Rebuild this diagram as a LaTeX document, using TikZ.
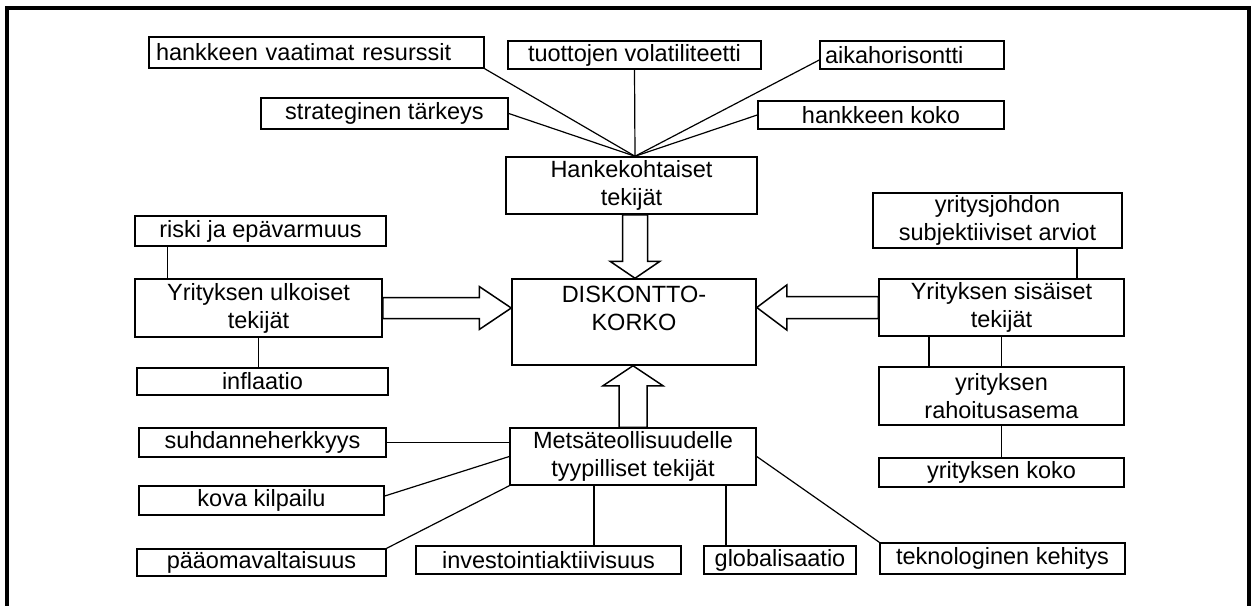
\documentclass[tikz,border=0pt]{standalone}
\usepackage{fontspec}
\setmainfont{Liberation Sans}
\usetikzlibrary{calc}

% hollow block arrow from #1 to #2: shaft half width, head half width, head length
\newcommand{\blockarrow}[5]{%
  \coordinate (ba-h) at ($(#2)!#5!(#1)$);
  \draw[barrow] ($(#1)!#3!90:(#2)$) -- ($(ba-h)!#3!90:(#2)$)
    -- ($(ba-h)!#4!90:(#2)$) -- (#2) -- ($(ba-h)!#4!-90:(#2)$)
    -- ($(ba-h)!#3!-90:(#2)$) -- ($(#1)!#3!-90:(#2)$) -- cycle;}

\begin{document}
\begin{tikzpicture}[x=1pt, y=-1pt,
    font=\fontsize{23.5}{28}\selectfont,
    box/.style={draw, line width=1.5pt, inner sep=0pt, align=center},
    conn/.style={line width=1.2pt},
    barrow/.style={line width=1.5pt, line join=miter, fill=white}]
  \useasboundingbox (0,0) rectangle (1257,605);
  \draw[line width=3.2pt] (7,615) -- (7,8) -- (1249,8) -- (1249,615);

  % hankekohtaiset
  \node[box, minimum width=335, minimum height=31, text width=321, align=left] (res) at (316.5,52.5) {hankkeen vaatimat resurssit};
  \node[box, minimum width=253, minimum height=28] (tuot) at (634.5,55) {tuottojen volatiliteetti};
  \node[box, minimum width=184, minimum height=28, text width=174, align=left] (aika) at (912,55) {aikahorisontti};
  \node[box, minimum width=247, minimum height=31] (str) at (384.5,113.5) {strateginen tärkeys};
  \node[box, minimum width=246, minimum height=28] (koko) at (881,115) {hankkeen koko};
  \node[box, minimum width=251, minimum height=57] (hank) at (631.5,185.5) {Hankekohtaiset\\tekijät};

  % keskus
  \node[box, minimum width=244, minimum height=86] (disk) at (634,322) {DISKONTTO-\\KORKO\\\mbox{}};

  % ulkoiset
  \node[box, minimum width=251, minimum height=30] (riski) at (260.5,231) {riski ja epävarmuus};
  \node[box, minimum width=247, minimum height=58] (ulk) at (258.5,308) {Yrityksen ulkoiset\\tekijät};
  \node[box, minimum width=251, minimum height=27] (infl) at (262.5,381.5) {inflaatio};

  % sisäiset
  \node[box, minimum width=249, minimum height=55] (johto) at (997.5,220.5) {yritysjohdon\\subjektiiviset arviot};
  \node[box, minimum width=245, minimum height=57] (sis) at (1001.5,307.5) {Yrityksen sisäiset\\tekijät};
  \node[box, minimum width=245, minimum height=58] (rah) at (1001.5,396) {yrityksen\\rahoitusasema};
  \node[box, minimum width=245, minimum height=29] (ykoko) at (1001.5,472.5) {yrityksen koko};

  % metsäteollisuus
  \node[box, minimum width=246, minimum height=57] (metsa) at (633,456.5) {Metsäteollisuudelle\\tyypilliset tekijät};
  \node[box, minimum width=247, minimum height=29] (suh) at (262.5,442.5) {suhdanneherkkyys};
  \node[box, minimum width=245, minimum height=29] (kova) at (261.5,500.5) {kova kilpailu};
  \node[box, minimum width=249, minimum height=27] (paa) at (261.5,562.5) {pääomavaltaisuus};
  \node[box, minimum width=265, minimum height=28] (inv) at (548.5,560) {investointiaktiivisuus};
  \node[box, minimum width=152, minimum height=28] (glob) at (780,560) {globalisaatio};
  \node[box, minimum width=245, minimum height=31] (tekno) at (1002.5,558.5) {teknologinen kehitys};

  % viivat
  \coordinate (hub) at ([xshift=3.5pt]hank.north);
  \foreach \src in {res.south east, str.east, tuot.south, koko.west}
    \draw[conn] (\src) -- (hub);
  \draw[conn] ([yshift=-5pt]aika.west) -- (hub);

  \draw[conn] ([xshift=33pt]riski.south west) -- ([xshift=33pt]ulk.north west);
  \draw[conn] (ulk.south) -- (ulk.south |- infl.north);

  \coordinate (jx) at ([xshift=79.5pt]johto.south);
  \draw[conn] (jx) -- (jx |- sis.north);
  \coordinate (sx) at ([xshift=-72.5pt]sis.south);
  \draw[conn] (sx) -- (sx |- rah.north);
  \draw[conn] (sis.south) -- (rah.north);
  \draw[conn] (rah.south) -- (ykoko.north);

  \draw[conn] (suh.east) -- (suh.east -| metsa.west);
  \draw[conn] ([yshift=4.5pt]kova.east) -- (metsa.west);
  \draw[conn] (paa.north east) -- (metsa.south west);
  \coordinate (ix) at ([xshift=45.5pt]inv.north);
  \draw[conn] (ix) -- (ix |- metsa.south);
  \coordinate (gx) at ([xshift=-54pt]glob.north);
  \draw[conn] (gx) -- (gx |- metsa.south);
  \draw[conn] (metsa.east) -- (tekno.north west);

  % nuolet
  \coordinate (dn-a) at ([xshift=3.5pt]hank.south);
  \coordinate (dn-b) at (dn-a |- disk.north);
  \blockarrow{dn-a}{dn-b}{12.5pt}{25pt}{17pt}
  \coordinate (rt-a) at (ulk.east);
  \coordinate (rt-b) at (ulk.east -| disk.west);
  \blockarrow{rt-a}{rt-b}{10.5pt}{21.5pt}{32pt}
  \coordinate (lt-a) at (sis.west);
  \coordinate (lt-b) at (sis.west -| disk.east);
  \blockarrow{lt-a}{lt-b}{11pt}{22.5pt}{30pt}
  \coordinate (up-a) at (metsa.north);
  \coordinate (up-b) at (metsa.north |- disk.south);
  \blockarrow{up-a}{up-b}{14pt}{30pt}{20pt}
\end{tikzpicture}
\end{document}
